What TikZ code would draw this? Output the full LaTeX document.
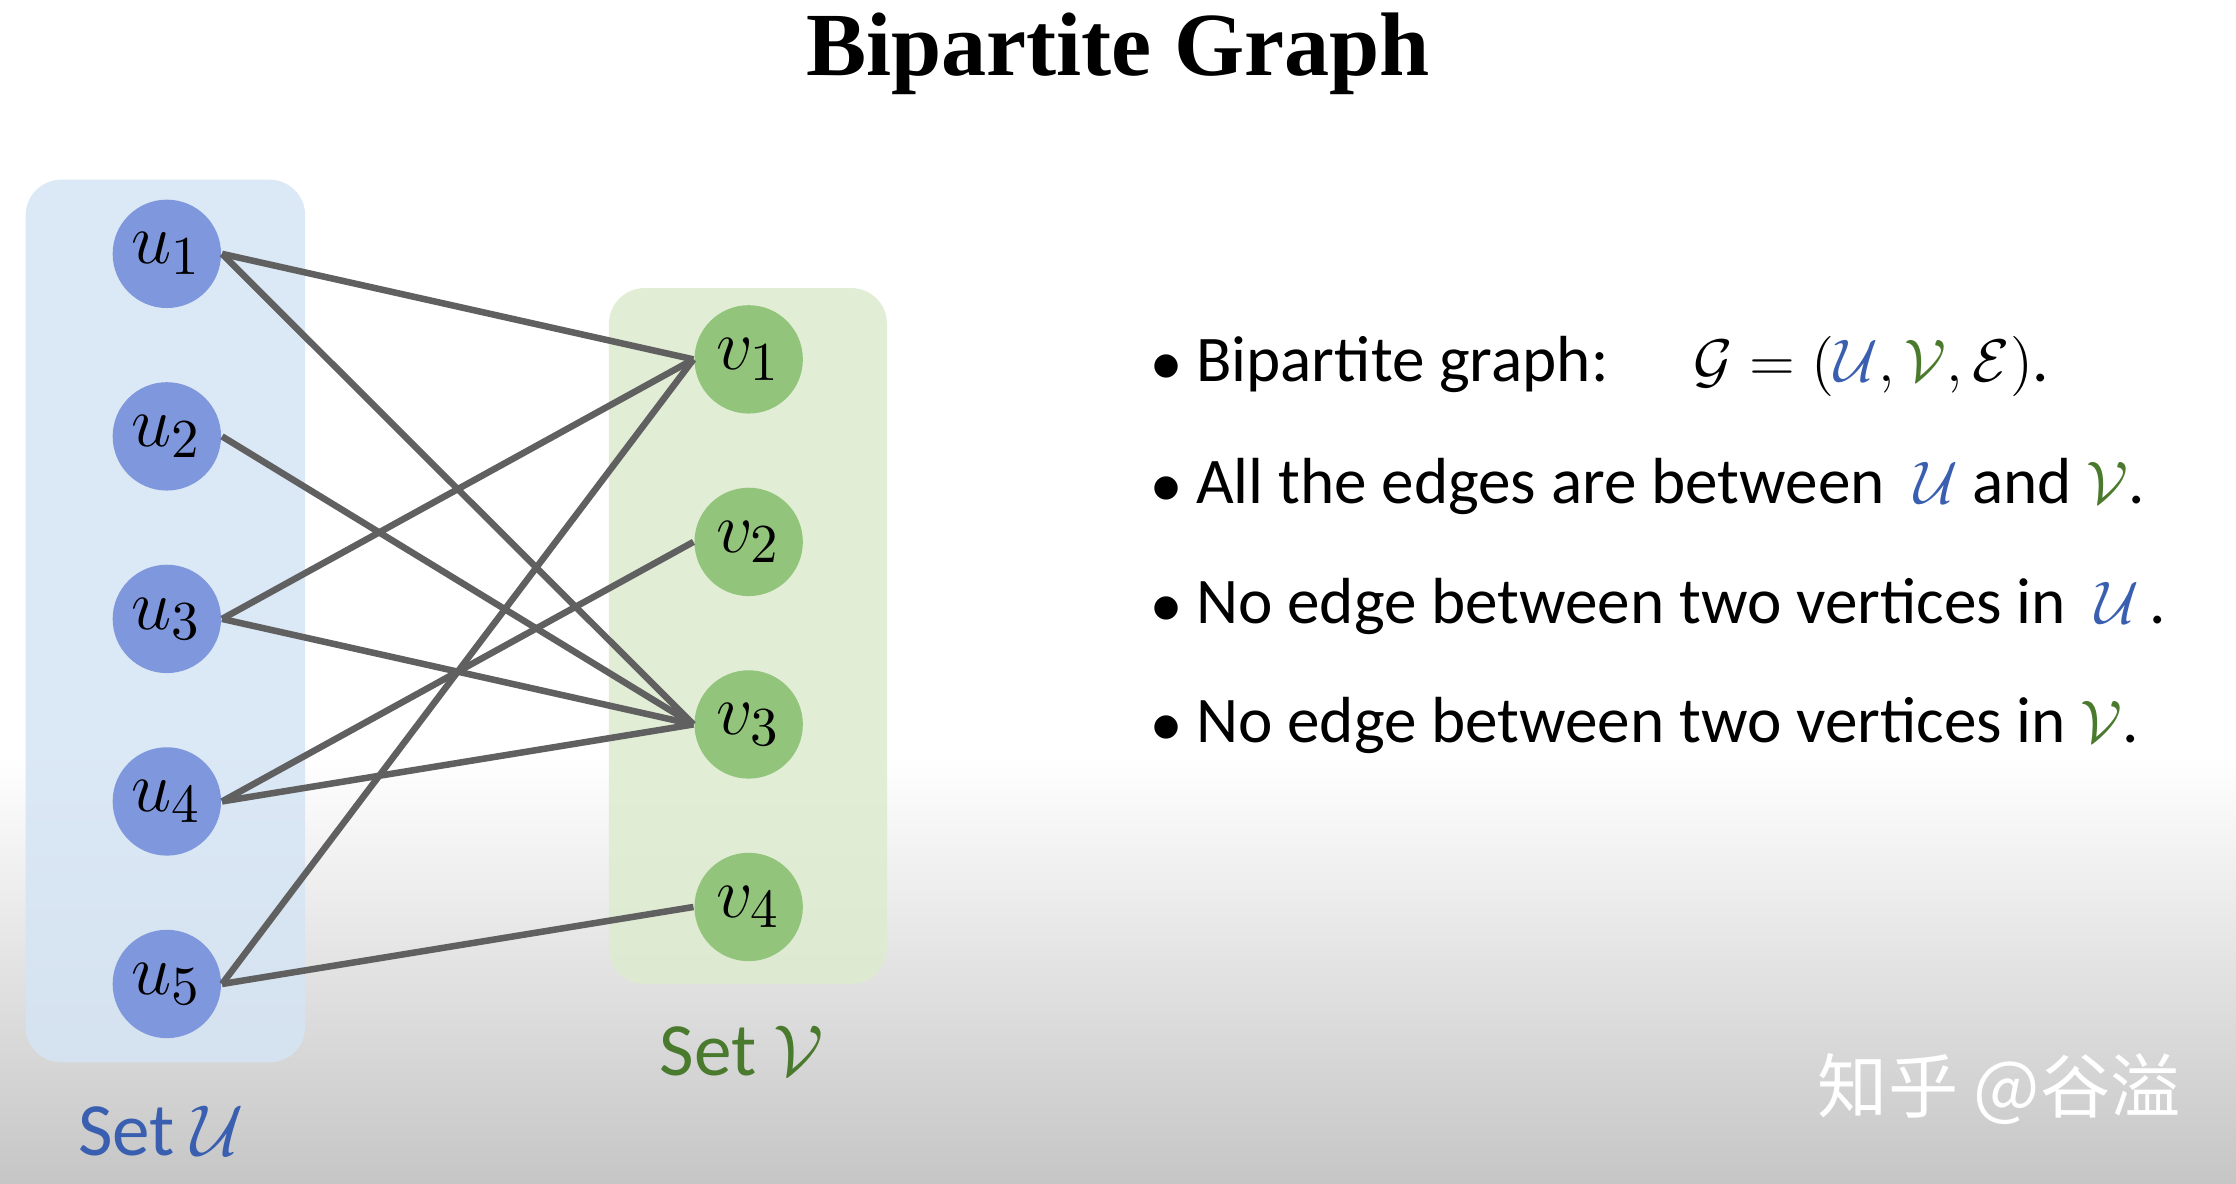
\documentclass[tikz,border=0pt]{standalone}
\usepackage{amsmath}
\usepackage{fontspec}
\setmainfont{Carlito}
\newfontfamily\titlefont{Liberation Serif}
\newfontfamily\cjk{Noto Sans CJK SC}
\usetikzlibrary{positioning}
\definecolor{ublue}{HTML}{7F97DC}
\definecolor{vgreen}{HTML}{92C47C}
\definecolor{ubox}{HTML}{D5E4F4}
\definecolor{vbox}{HTML}{DEEBCF}
\definecolor{utext}{HTML}{3A5FB0}
\definecolor{vtext}{HTML}{4A7A2E}
\tikzset{
  unode/.style={circle,fill=ublue,minimum size=0.76cm,inner sep=0pt,font=\fontsize{15}{17}\selectfont},
  vnode/.style={circle,fill=vgreen,minimum size=0.76cm,inner sep=0pt,font=\fontsize{15}{17}\selectfont},
  edge/.style={draw=gray!75!black,line width=1.3pt},
  bullet/.style={anchor=west,font=\fontsize{13}{16}\selectfont}
}
\begin{document}
\begin{tikzpicture}
	% background
	\fill[white] (0,0) rectangle (15.68,8.30);
	\shade[top color=white,bottom color=gray!45] (0,0) rectangle (15.68,3.0);
	\useasboundingbox (0,0) rectangle (15.68,8.30);
	% title
	\node (title) at (7.84,7.92) {\titlefont\bfseries\fontsize{18}{22}\selectfont Bipartite Graph};
	% sets
	\fill[ubox,opacity=.85,rounded corners=0.25cm] (0.18,0.85) rectangle (2.14,7.04);
	\fill[vbox,opacity=.85,rounded corners=0.25cm] (4.27,1.40) rectangle (6.22,6.28);
	% vertices
	\foreach \i/\y in {1/6.52,2/5.24,3/3.96,4/2.68,5/1.40}
		\node[unode] (u\i) at (1.17,\y) {$u_{\i}$};
	\foreach \i/\y in {1/5.78,2/4.50,3/3.22,4/1.94}
		\node[vnode] (v\i) at (5.25,\y) {$v_{\i}$};
	% edges
	\foreach \a/\b in {1/1,1/3,2/3,3/1,3/3,4/2,4/3,5/1,5/4}
		\draw[edge] (u\a.east) -- (v\b.west);
	% set labels
	\node[text=utext,font=\fontsize{15}{18}\selectfont] (setu) at (1.13,0.37) {Set $\mathcal{U}$};
	\node[text=vtext,font=\fontsize{15}{18}\selectfont] (setv) at (5.20,0.93) {Set $\mathcal{V}$};
	% bullets
	\node[bullet] (b1) at (7.95,5.73) {$\bullet$ Bipartite graph: \quad $\mathcal{G}=(\textcolor{utext}{\mathcal{U}},\textcolor{vtext}{\mathcal{V}},\mathcal{E})$.};
	\node[bullet] (b2) at (7.95,4.89) {$\bullet$ All the edges are between \ \textcolor{utext}{$\mathcal{U}$} and \textcolor{vtext}{$\mathcal{V}$}.};
	\node[bullet] (b3) at (7.95,4.05) {$\bullet$ No edge between two vertices in \ \textcolor{utext}{$\mathcal{U}$}\,.};
	\node[bullet] (b4) at (7.95,3.21) {$\bullet$ No edge between two vertices in \textcolor{vtext}{$\mathcal{V}$}.};
	% watermark
	\node[text=white,font=\cjk\fontsize{14}{16}\selectfont] (mark) at (14.02,0.66) {知乎 @谷溢};
\end{tikzpicture}
\end{document}
